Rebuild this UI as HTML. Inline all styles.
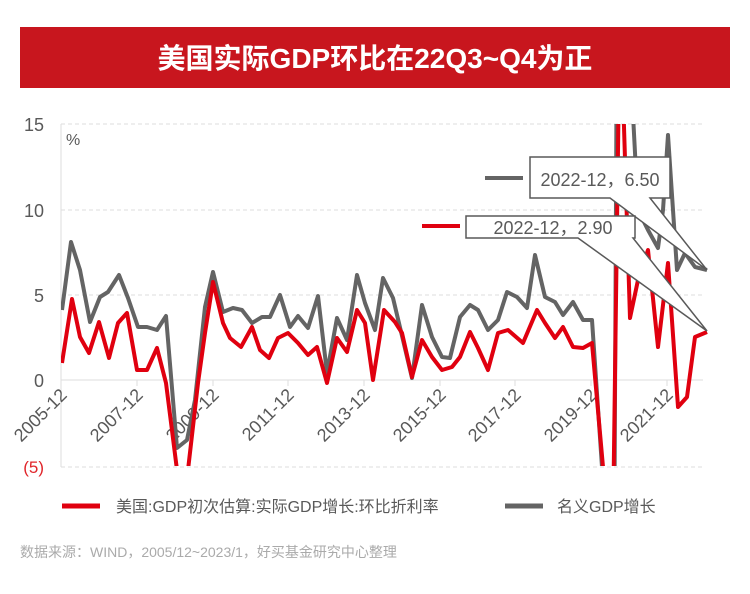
<!DOCTYPE html>
<html><head><meta charset="utf-8"><style>
body{margin:0;background:#fff;width:750px;height:594px;overflow:hidden;font-family:"Liberation Sans","Noto Sans CJK SC",sans-serif}
</style></head><body>
<svg width="750" height="594" xmlns="http://www.w3.org/2000/svg" style="position:absolute;left:0;top:0;font-family:'Liberation Sans','Noto Sans CJK SC',sans-serif">
<rect x="20" y="27" width="710" height="61" fill="#c8161e"/>
<text x="375" y="68" text-anchor="middle" fill="#fff" font-size="28" font-weight="bold">美国实际GDP环比在22Q3~Q4为正</text>
<defs><clipPath id="c"><rect x="61" y="124" width="648" height="342"/></clipPath></defs>
<g stroke="#ddd" stroke-dasharray="4,3" stroke-width="1">
<line x1="61" x2="703" y1="124" y2="124"/><line x1="61" x2="703" y1="210" y2="210"/><line x1="61" x2="703" y1="295" y2="295"/><line x1="61" x2="703" y1="467" y2="467"/>
</g>
<line x1="61" x2="61" y1="124" y2="467" stroke="#ddd"/>
<line x1="61" x2="703" y1="380" y2="380" stroke="#ddd"/>
<g stroke="#ddd"><line x1="137" x2="137" y1="380" y2="386"/><line x1="213" x2="213" y1="380" y2="386"/><line x1="288" x2="288" y1="380" y2="386"/><line x1="364" x2="364" y1="380" y2="386"/><line x1="440" x2="440" y1="380" y2="386"/><line x1="515" x2="515" y1="380" y2="386"/><line x1="591" x2="591" y1="380" y2="386"/><line x1="667" x2="667" y1="380" y2="386"/></g>
<g font-size="18" fill="#595959" text-anchor="end">
<text x="44" y="131">15</text><text x="44" y="217">10</text><text x="44" y="302">5</text><text x="44" y="387">0</text>
<text x="44" y="473" fill="#e0262b" font-size="17">(5)</text>
</g>
<text x="66" y="145" font-size="16" fill="#595959">%</text>
<g font-size="18" fill="#595959" text-anchor="end">
<text transform="translate(68,396) rotate(-45)">2005-12</text>
<text transform="translate(144,396) rotate(-45)">2007-12</text>
<text transform="translate(220,396) rotate(-45)">2009-12</text>
<text transform="translate(295,396) rotate(-45)">2011-12</text>
<text transform="translate(371,396) rotate(-45)">2013-12</text>
<text transform="translate(447,396) rotate(-45)">2015-12</text>
<text transform="translate(522,396) rotate(-45)">2017-12</text>
<text transform="translate(598,396) rotate(-45)">2019-12</text>
<text transform="translate(674,396) rotate(-45)">2021-12</text>
</g>
<g clip-path="url(#c)" fill="none" stroke-width="4" stroke-linejoin="round">
<polyline stroke="#646464" points="62,310 71,242 80,270 90,322 100,297 108,292 119,275 128,298 138,327 147,327 157,330 166,316 177,448 187,440 195,400 205,307 213,272 223,312 233,308 242,310 252,323 262,317 270,317 280,295 290,327 298,316 308,328 318,296 327,373 337,318 347,340 357,275 365,303 375,330 383,278 393,298 403,340 412,378 422,305 432,337 442,357 450,358 460,317 470,305 478,310 488,330 498,320 507,292 517,297 527,308 535,255 545,297 555,302 563,315 573,302 583,320 592,320 602,467 614,600 617,0 627,0 638,210 648,230 658,248 663,210 668,135 677,270 685,253 695,267 707,270"/>
<polyline stroke="#e0000f" points="62,363 72,299 80,337 89,353 99,322 109,358 118,323 127,313 137,370 147,370 157,348 166,383 177,470 182,500 188,470 198,383 205,333 213,282 223,323 230,338 241,347 252,327 260,350 269,358 278,338 288,333 298,343 308,355 317,347 327,383 337,338 347,352 357,310 365,323 373,380 384,310 395,322 402,333 412,377 422,340 432,357 442,370 452,367 460,357 470,332 478,348 488,370 498,333 508,330 523,343 537,310 545,323 555,338 563,327 573,347 583,348 592,343 603,467 612,600 620,0 630,318 638,280 648,250 658,347 668,263 678,407 687,397 695,337 707,332"/>
</g>
<line x1="485" x2="523" y1="178" y2="178" stroke="#646464" stroke-width="4"/>
<polygon points="530,157 670,157 670,198 650,198 707,270 610,198 530,198" fill="#fff" stroke="#595959" stroke-width="1.5"/>
<text x="600" y="186" text-anchor="middle" font-size="18" fill="#595959">2022-12，6.50</text>
<line x1="422" x2="460" y1="226" y2="226" stroke="#e0000f" stroke-width="4"/>
<polygon points="466,216 635,216 635,238 633,238 707,331 578,238 466,238" fill="#fff" stroke="#595959" stroke-width="1.5"/>
<text x="553" y="234" text-anchor="middle" font-size="18" fill="#595959">2022-12，2.90</text>
<line x1="62" x2="100" y1="506" y2="506" stroke="#e0000f" stroke-width="5"/>
<text x="116" y="512" font-size="16" fill="#595959">美国:GDP初次估算:实际GDP增长:环比折利率</text>
<line x1="505" x2="543" y1="506" y2="506" stroke="#646464" stroke-width="5"/>
<text x="557" y="512" font-size="16" fill="#595959">名义GDP增长</text>
<text x="20" y="557" font-size="14" fill="#aaa">数据来源：WIND，2005/12~2023/1，好买基金研究中心整理</text>
</svg>
</body></html>
